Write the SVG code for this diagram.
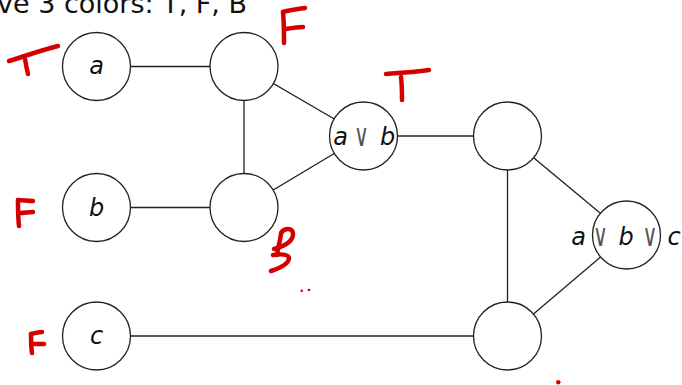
<svg xmlns="http://www.w3.org/2000/svg" width="682" height="385" viewBox="0 0 682 385">
  <style>
    .edge { stroke: #222; stroke-width: 1.3; fill: none; }
    .node circle { fill: #fff; stroke: #222; stroke-width: 1.3; }
    .lbl { font-family: "DejaVu Sans", sans-serif; font-size: 24px; font-style: italic; text-anchor: middle; fill: #111; }
    .op { font-family: "DejaVu Sans", sans-serif; font-size: 24px; text-anchor: middle; fill: #555; }
    .ink { stroke: #d40000; stroke-width: 4.5; fill: none; stroke-linecap: round; stroke-linejoin: round; }
    .title { font-family: "DejaVu Sans", sans-serif; font-size: 27px; fill: #111; }
  </style>

  <text class="title" x="-3" y="13">ve 3 colors:  T, F, B</text>

  <!-- connectors -->
  <g id="edges">
    <line class="edge" x1="96.5" y1="66.5" x2="244" y2="66.5"/>
    <line class="edge" x1="244" y1="66.5" x2="244" y2="207.5"/>
    <line class="edge" x1="244" y1="66.5" x2="363.5" y2="136"/>
    <line class="edge" x1="244" y1="207.5" x2="363.5" y2="136"/>
    <line class="edge" x1="96.5" y1="207.5" x2="244" y2="207.5"/>
    <line class="edge" x1="363.5" y1="136" x2="507.5" y2="136"/>
    <line class="edge" x1="507.5" y1="136" x2="507.5" y2="336"/>
    <line class="edge" x1="507.5" y1="136" x2="626.5" y2="235"/>
    <line class="edge" x1="507.5" y1="336" x2="626.5" y2="235"/>
    <line class="edge" x1="96.5" y1="336" x2="507.5" y2="336"/>
  </g>

  <!-- nodes -->
  <g id="node-a" class="node"><circle cx="96.5" cy="66.5" r="34"/><text class="lbl" x="96.5" y="74">a</text></g>
  <g id="node-n1" class="node"><circle cx="244" cy="66.5" r="34"/></g>
  <g id="node-b" class="node"><circle cx="96.5" cy="207.5" r="34"/><text class="lbl" x="96.5" y="216">b</text></g>
  <g id="node-n2" class="node"><circle cx="244" cy="207.5" r="34"/></g>
  <g id="node-ab" class="node">
    <circle cx="363.5" cy="136" r="34"/>
    <text class="lbl" x="340.5" y="145">a</text>
    <text class="op" transform="translate(361.5,146) scale(0.85,1.3)">∨</text>
    <text class="lbl" x="387.5" y="145">b</text>
  </g>
  <g id="node-n3" class="node"><circle cx="507.5" cy="136" r="34"/></g>
  <g id="node-abc" class="node">
    <circle cx="626.5" cy="235" r="34" fill="none"/>
    <text class="lbl" x="578.5" y="245">a</text>
    <text class="op" transform="translate(600.5,246) scale(0.85,1.3)">∨</text>
    <text class="lbl" x="626" y="245">b</text>
    <text class="op" transform="translate(650,246) scale(0.85,1.3)">∨</text>
    <text class="lbl" x="674" y="245">c</text>
  </g>
  <g id="node-c" class="node"><circle cx="96.5" cy="336" r="34"/><text class="lbl" x="96.5" y="344">c</text></g>
  <g id="node-n4" class="node"><circle cx="507.5" cy="336" r="34"/></g>

  <!-- handwritten colour marks -->
  <g id="marks">
    <path class="ink" d="M9,61 C25,56 42,50 58,46"/>
    <path class="ink" d="M25,59 C26,65 27,70 28,74"/>

    <path class="ink" d="M283,12 C284,22 284,34 284,43"/>
    <path class="ink" d="M283,12 C290,10 298,9 305,8"/>
    <path class="ink" d="M286,29 C292,28 298,27 303,27"/>

    <path class="ink" d="M386,74 C400,73 415,72 429,70"/>
    <path class="ink" d="M401,77 C402,85 402,93 402,100"/>

    <path class="ink" d="M18,200 C18,209 18,218 19,226"/>
    <path class="ink" d="M18,200 C23,200 28,201 33,201"/>
    <path class="ink" d="M20,213 C24,213 29,212 33,212"/>

    <path class="ink" d="M281,233 C284,228 293,227 293,234 C293,241 285,246 274,249"/>
    <path class="ink" d="M281,234 C280,241 278,248 277,255"/>
    <path class="ink" d="M273,255 C280,254 288,254 289,258 C289,264 280,268 271,271"/>

    <circle cx="301.7" cy="290.7" r="1.3" fill="#d40000"/>
    <circle cx="309" cy="290" r="1.3" fill="#d40000"/>

    <path class="ink" d="M31,334 C31,341 31,347 32,353"/>
    <path class="ink" d="M31,334 C35,333 39,332 42,332"/>
    <path class="ink" d="M32,344 C36,344 40,344 44,344"/>

    <circle cx="558.3" cy="382.3" r="2.2" fill="#d40000"/>
  </g>
</svg>
